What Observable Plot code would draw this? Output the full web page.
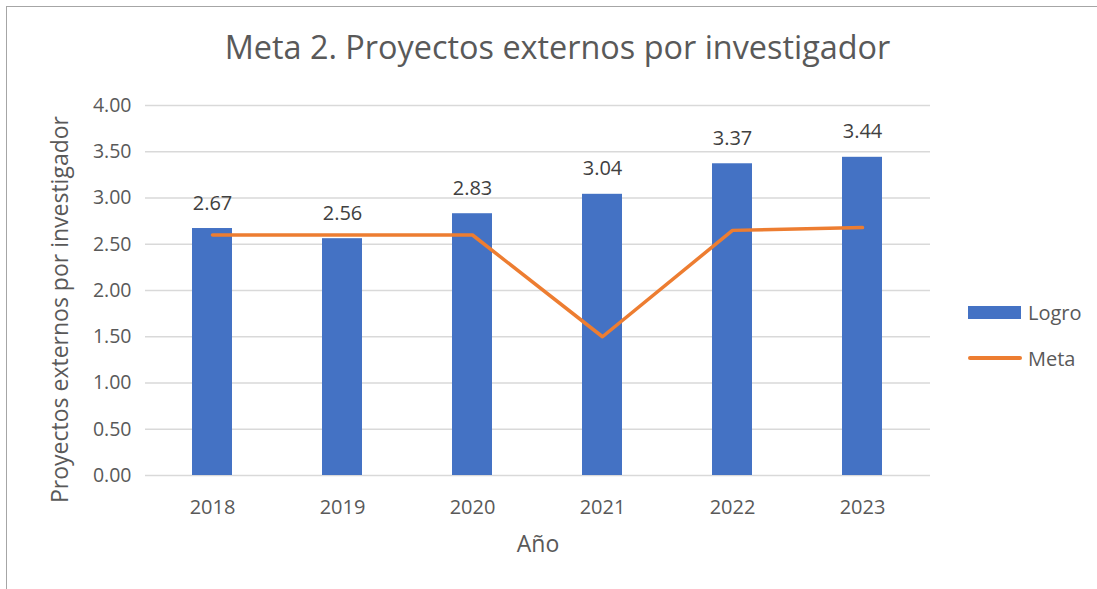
<!DOCTYPE html>
<html>
<head>
<meta charset="utf-8">
<script src="https://cdn.jsdelivr.net/npm/d3@7"></script>
<script src="https://cdn.jsdelivr.net/npm/@observablehq/plot@0.6"></script>
<style>
  body { margin: 0; background: #fff; font-family: "Open Sans", sans-serif; }
  #wrap { position: relative; width: 1097px; height: 589px; overflow: hidden; }
  #frame { position: absolute; left: 6px; top: 6px; width: 1200px; height: 700px; border-left: 1px solid #a6a6a6; border-top: 1px solid #a6a6a6; }
  #title { position: absolute; left: 0; top: 24px; width: 1115px; text-align: center; font-size: 32.4px; color: #595959; }
  #chart { position: absolute; left: 0; top: 90px; }
  #legend { position: absolute; left: 968px; top: 298px; font-size: 20px; color: #595959; }
  .item { display: flex; align-items: center; height: 28px; margin-bottom: 18px; }
  .sw { width: 53px; height: 13px; background: #4472C4; margin-right: 7px; }
  .ln { width: 54px; height: 4px; background: #ED7D31; border-radius: 2px; margin-right: 6px; }
</style>
</head>
<body>
<div id="wrap">
  <div id="frame"></div>
  <div id="title">Meta 2. Proyectos externos por investigador</div>
  <div id="chart"></div>
  <div id="legend">
    <div class="item"><div class="sw"></div>Logro</div>
    <div class="item"><div class="ln"></div>Meta</div>
  </div>
</div>
<script>
const years = ["2018", "2019", "2020", "2021", "2022", "2023"];
const logro = [2.67, 2.56, 2.83, 3.04, 3.37, 3.44];
const meta = [2.60, 2.60, 2.60, 1.50, 2.65, 2.68];
const yTicks = [0, 0.5, 1, 1.5, 2, 2.5, 3, 3.5, 4];

const data = years.map((y, i) => ({year: y, logro: logro[i], meta: meta[i]}));

const chart = Plot.plot({
  width: 940,
  height: 480,
  marginLeft: 145,
  marginRight: 10,
  marginTop: 15,
  marginBottom: 95,
  style: {fontFamily: "'Open Sans', sans-serif", fontSize: "18px", color: "#595959", background: "transparent"},
  x: {domain: years, paddingInner: 0.69, paddingOuter: 0.345, label: null},
  y: {domain: [0, 4], label: null},
  marks: [
    Plot.gridY(yTicks, {stroke: "#d9d9d9", strokeOpacity: 1, strokeWidth: 1.5}),
    Plot.barY(data, {x: "year", y: "logro", fill: "#4472C4"}),
    Plot.lineY(data, {x: "year", y: "meta", stroke: "#ED7D31", strokeWidth: 3.5, strokeLinecap: "round", strokeLinejoin: "round"}),
    Plot.text(data, {x: "year", y: "logro", text: d => d.logro.toFixed(2), lineAnchor: "bottom", dy: -19, fill: "#404040", fontSize: 20}),
    Plot.axisY(yTicks, {tickSize: 0, tickPadding: 14, tickFormat: d => d.toFixed(2), fill: "#595959", fontSize: 19.5, label: null}),
    Plot.axisX({tickSize: 0, tickPadding: 24, fill: "#595959", fontSize: 20, label: null}),
    Plot.text(["Proyectos externos por investigador"], {frameAnchor: "left", textAnchor: "middle", rotate: -90, dx: -85, dy: 19, fill: "#595959", fontSize: 23}),
    Plot.text(["Año"], {frameAnchor: "bottom", dy: 76, fill: "#595959", fontSize: 23})
  ]
});
document.getElementById("chart").appendChild(chart);
</script>
</body>
</html>
